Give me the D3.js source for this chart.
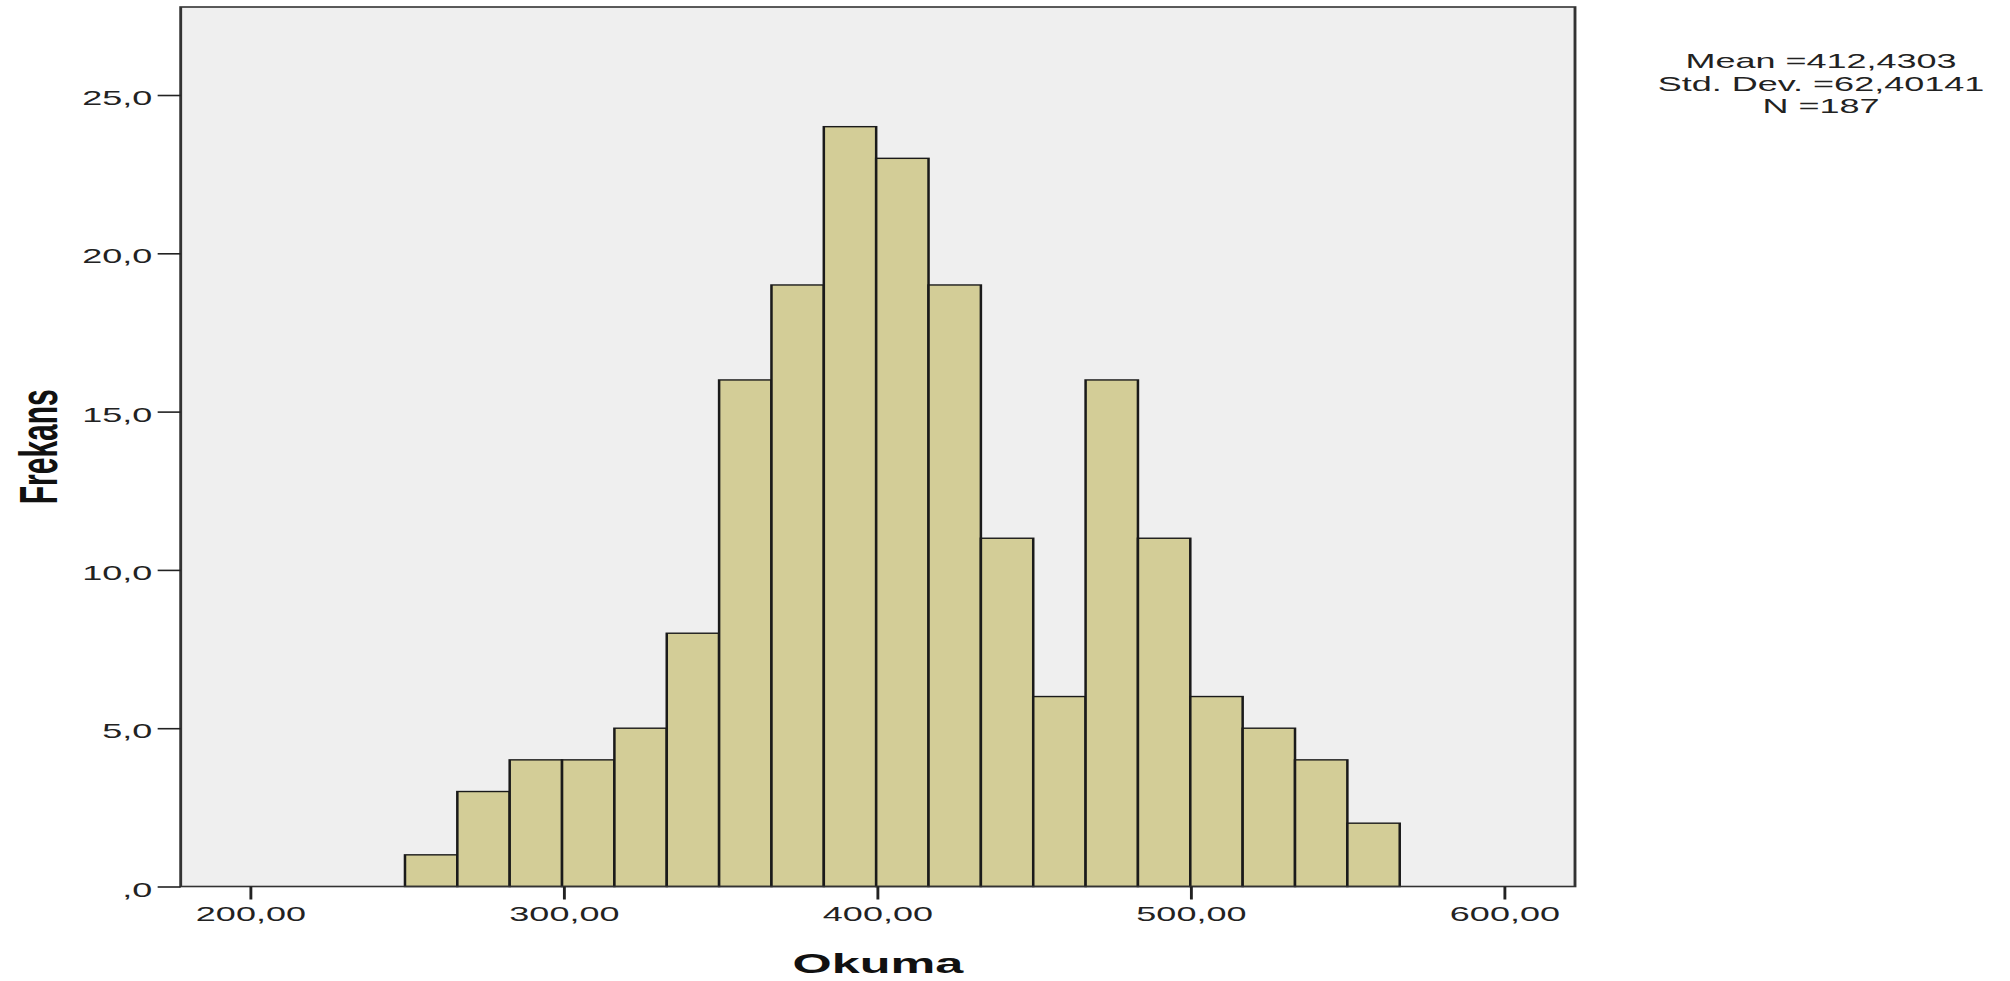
<!DOCTYPE html>
<html>
<head>
<meta charset="utf-8">
<script src="https://cdn.jsdelivr.net/npm/d3@7/dist/d3.min.js"></script>
<style>
  html, body { margin: 0; padding: 0; background: #ffffff; }
  svg { display: block; }
  text { font-family: Arial, "Liberation Sans", sans-serif; fill: #222; }
</style>
</head>
<body>
<svg id="chart" width="2010" height="981"></svg>
<script>
// ---- data ----
const binStart = 249.44;
const binWidth = 16.70;
const counts = [1, 3, 4, 4, 5, 8, 16, 19, 24, 23, 19, 11, 6, 16, 11, 6, 5, 4, 2];
const xTicks = [200, 300, 400, 500, 600];
const yTicks = [0, 5, 10, 15, 20, 25];
const statLines = ["Mean =412,4303", "Std. Dev. =62,40141", "N =187"];
const xTitle = "Okuma";
const yTitle = "Frekans";

// ---- layout (whole drawing is horizontally stretched like the reference) ----
const SX = 1.8;
const plotL = 180.7 / SX, plotR = 1575 / SX, plotT = 7, plotB = 886.5;

const svg = d3.select("#chart");
const g = svg.append("g").attr("transform", `scale(${SX},1)`);

const x = d3.scaleLinear().domain([177.9, 622.65]).range([plotL, plotR]);
const y = d3.scaleLinear().domain([0, 27.78]).range([plotB, plotT]);

const bins = counts.map((c, i) => ({x0: binStart + i * binWidth, x1: binStart + (i + 1) * binWidth, n: c}));

// plot background
g.append("rect")
  .attr("x", plotL).attr("y", plotT)
  .attr("width", plotR - plotL).attr("height", plotB - plotT)
  .attr("fill", "#efefef");

// bars
g.append("g").selectAll("rect").data(bins).join("rect")
  .attr("x", d => x(d.x0))
  .attr("y", d => y(d.n))
  .attr("width", d => x(d.x1) - x(d.x0))
  .attr("height", d => y(0) - y(d.n))
  .attr("fill", "#d3cd97")
  .attr("stroke", "#1a1a1a")
  .attr("stroke-width", 1.4);

// frame
g.append("rect")
  .attr("x", plotL).attr("y", plotT)
  .attr("width", plotR - plotL).attr("height", plotB - plotT)
  .attr("fill", "none")
  .attr("stroke", "#333")
  .attr("stroke-width", 1.6);

// axes
const fmtY = v => v === 0 ? ",0" : d3.format(".1f")(v).replace(".", ",");
const fmtX = v => d3.format(".2f")(v).replace(".", ",");

const yAxis = g.append("g").attr("transform", `translate(${plotL},0)`)
  .call(d3.axisLeft(y).tickValues(yTicks).tickFormat(fmtY).tickSize(12.8).tickPadding(3));
yAxis.select(".domain").remove();
yAxis.selectAll(".tick line").attr("stroke", "#222").attr("stroke-width", 1.6);
yAxis.selectAll(".tick text")
  .attr("font-size", 20).attr("font-family", "Arial, 'Liberation Sans', sans-serif")
  .attr("fill", "#222").attr("dy", "0.48em");

const xAxis = g.append("g").attr("transform", `translate(0,${plotB})`)
  .call(d3.axisBottom(x).tickValues(xTicks).tickFormat(fmtX).tickSize(13).tickPadding(7));
xAxis.select(".domain").remove();
xAxis.selectAll(".tick line").attr("stroke", "#222").attr("stroke-width", 1.6);
xAxis.selectAll(".tick text")
  .attr("font-size", 20).attr("font-family", "Arial, 'Liberation Sans', sans-serif")
  .attr("fill", "#222");

// axis titles
g.append("text")
  .attr("x", (plotL + plotR) / 2).attr("y", 973)
  .attr("text-anchor", "middle")
  .attr("font-size", 28).attr("font-weight", "bold")
  .style("fill", "#111")
  .text(xTitle);

g.append("text")
  .attr("transform", `translate(${57 / SX},${(plotT + plotB) / 2}) rotate(-90)`)
  .attr("text-anchor", "middle")
  .attr("font-size", 30).attr("font-weight", "bold")
  .style("fill", "#111")
  .text(yTitle);

// statistics block
const statY = [68, 91, 113];
g.append("g").selectAll("text").data(statLines).join("text")
  .attr("x", 1821 / SX)
  .attr("y", (d, i) => statY[i])
  .attr("text-anchor", "middle")
  .attr("font-size", 20)
  .style("fill", "#222")
  .text(d => d);
</script>
</body>
</html>
